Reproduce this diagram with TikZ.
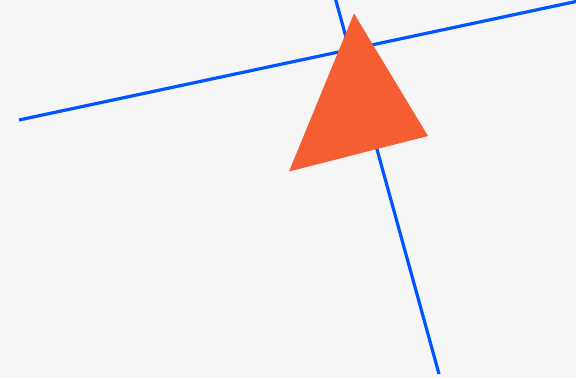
\documentclass[tikz,border=0pt]{standalone}
\usepackage{tikz}
\usetikzlibrary{positioning}
\definecolor{bgray}{HTML}{F6F6F6}
\definecolor{lineblue}{HTML}{0055FF}
\definecolor{triorange}{HTML}{F55D33}
\tikzstyle{axisline} = [draw=lineblue, line width=3.2pt]
\tikzstyle{wedge} = [fill=triorange, draw=none]

\begin{document}
\begin{tikzpicture}[x=1pt, y=-1pt]

	% Background and frame
	\fill [bgray] (0,0) rectangle (576,378);
	\useasboundingbox (0,0) rectangle (576,378);
	\clip (0,0) rectangle (576,378);

	% End points of the lines
	\coordinate (ha) at (19,120);
	\coordinate (hb) at (590,-1.5);
	\coordinate (va) at (333,-10);
	\coordinate (vb) at (439,374);

	% Lines
	\path [axisline] (ha) -- (hb);
	\path [axisline] (va) -- (vb);

	% Triangle
	\coordinate (tt) at (354,13.5);
	\coordinate (tr) at (428,136);
	\coordinate (tl) at (289,171.5);
	\path [wedge] (tt) -- (tr) -- (tl) -- cycle;

\end{tikzpicture}
\end{document}
